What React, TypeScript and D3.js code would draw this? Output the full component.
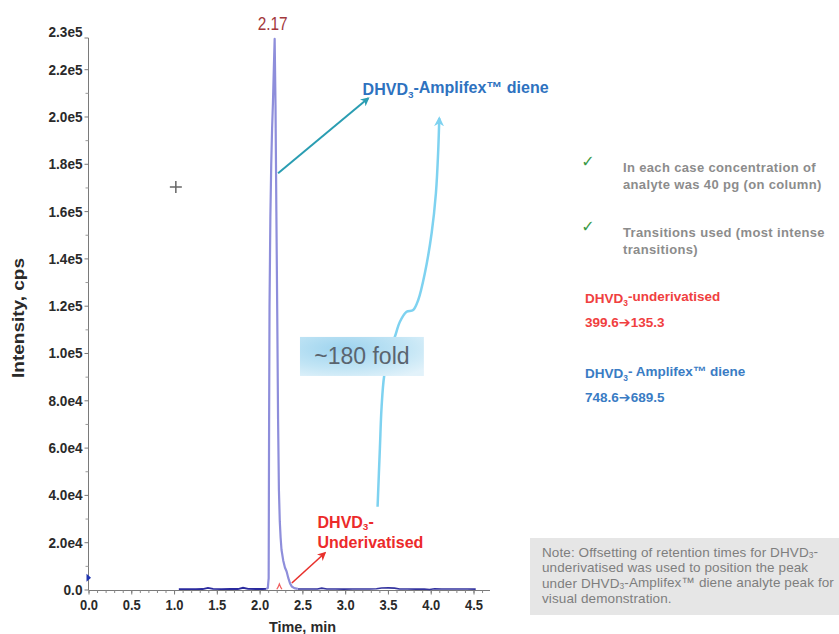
import React from "react";
import * as d3 from "d3";

// ---------- data ----------
const xTickValues = [0, 0.5, 1.0, 1.5, 2.0, 2.5, 3.0, 3.5, 4.0, 4.5];
const xTickLabels = ["0.0", "0.5", "1.0", "1.5", "2.0", "2.5", "3.0", "3.5", "4.0", "4.5"];
const yTickValues = [0, 2e4, 4e4, 6e4, 8e4, 1e5, 1.2e5, 1.4e5, 1.6e5, 1.8e5, 2.0e5, 2.2e5, 2.334e5];
const yTickLabels = ["0.0", "2.0e4", "4.0e4", "6.0e4", "8.0e4", "1.0e5", "1.2e5", "1.4e5", "1.6e5", "1.8e5", "2.0e5", "2.2e5", "2.3e5"];

// DHVD3-Amplifex diene trace (peak region)
const peakTimes = [2.07, 2.09, 2.10, 2.105, 2.11, 2.12, 2.13, 2.14, 2.15, 2.16, 2.17, 2.18, 2.19, 2.20, 2.21, 2.22, 2.23, 2.24, 2.25, 2.27, 2.29, 2.31, 2.33, 2.35, 2.37, 2.40, 2.44];
const peakIntensity = [450, 800, 5000, 70000, 120000, 158000, 180000, 195000, 206000, 220000, 233000, 205000, 160000, 118000, 72000, 42000, 29000, 22000, 17000, 12500, 9500, 7800, 5000, 2800, 1500, 800, 450];
// baseline of the same trace
const basePreTimes = [1.05, 1.15, 1.25, 1.33, 1.39, 1.45, 1.55, 1.65, 1.74, 1.80, 1.86, 1.95, 2.03, 2.07];
const basePreIntensity = [350, 400, 380, 420, 900, 450, 400, 430, 420, 950, 450, 420, 430, 450];
const basePostTimes = [2.44, 2.52, 2.60, 2.67, 2.72, 2.78, 2.88, 2.98, 3.08, 3.18, 3.28, 3.36, 3.42, 3.50, 3.57, 3.63, 3.72, 3.82, 3.92, 3.98, 4.04, 4.12, 4.22, 4.32, 4.42, 4.52];
const basePostIntensity = [450, 420, 400, 450, 800, 430, 400, 380, 400, 420, 410, 500, 850, 900, 800, 420, 400, 380, 390, 200, 500, 420, 400, 410, 400, 380];

// DHVD3-underivatised trace (tiny peak)
const underTimes = [2.195, 2.21, 2.225, 2.24, 2.255];
const underIntensity = [300, 1200, 2600, 1200, 300];

// annotations in data units
const peakLabelTime = 2.17;
const peakLabelText = "2.17";
const crossPoint = [1.015, 170400];
const tealArrow = [[2.21, 176200], [3.263, 207900]];
const redArrow = [[2.371, 2960], [2.757, 15640]];
const foldCurve = [
  [3.373, 35220], [3.40, 60000], [3.420, 77500], [3.450, 90490], [3.51, 101000], [3.575, 107100], [3.634, 113450],
  [3.712, 117670], [3.789, 118390], [3.848, 122620], [3.926, 134040], [4.005, 150950],
  [4.055, 167860], [4.082, 186050], [4.094, 199450],
];
const foldBox = [2.466, 3.914, 90500, 107000];
const foldText = "~180 fold";

const rightNotes1 = ["In each case concentration of", "analyte was 40 pg (on column)"];
const rightNotes2 = ["Transitions used (most intense", "transitions)"];
const underTransition = ["399.6", "135.3"];
const dieneTransition = ["748.6", "689.5"];

const FONT = "'Liberation Sans', Arial, Helvetica, sans-serif";

export default function App() {
  const W = 839, H = 634;
  const x = d3.scaleLinear().domain([0, 4.687]).range([89, 490]);
  const y = d3.scaleLinear().domain([0, 233400]).range([590, 38]);

  const line = d3
    .line<[number, number]>()
    .x((d) => x(d[0]))
    .y((d) => y(d[1]));
  const zip = (t: number[], v: number[]) => t.map((ti, i) => [ti, v[i]] as [number, number]);

  const curve = d3
    .line<number[]>()
    .x((d) => x(d[0]))
    .y((d) => y(d[1]))
    .curve(d3.curveCatmullRom.alpha(0.5));

  const minorY = d3.range(1e4, 2.3e5, 2e4);
  const minorX = d3.range(0, 4.66, 0.1);

  const x0 = x(0) - 0.5;
  const yAxisTop = y(233400);

  const sub = (s: string, d = 0.3) => (
    <tspan fontSize="0.62em" dy={`${d}em`}>{s}</tspan>
  );
  const arrowGlyph = (
    <tspan fontFamily="'DejaVu Sans', sans-serif" fontWeight="bold" fontSize="1.05em">➔</tspan>
  );

  return (
    <svg
      width={W}
      height={H}
      style={{ position: "absolute", left: 0, top: 0, background: "#fff" }}
      fontFamily={FONT}
    >
      <defs>
        <marker id="mTeal" viewBox="0 0 10 10" refX="8" refY="5" markerWidth="4.5" markerHeight="4.5" orient="auto">
          <path d="M0,0 L10,5 L0,10 L3,5 Z" fill="#2a9db2" />
        </marker>
        <marker id="mRed" viewBox="0 0 10 10" refX="8" refY="5" markerWidth="5.5" markerHeight="5.5" orient="auto">
          <path d="M0,0 L10,5 L0,10 L3,5 Z" fill="#e8302c" />
        </marker>
        <marker id="mBlue" viewBox="0 0 10 10" refX="8" refY="5" markerWidth="4" markerHeight="4" orient="auto">
          <path d="M0,0 L10,5 L0,10 L3,5 Z" fill="#7ed2f0" />
        </marker>
        <radialGradient id="foldGrad" cx="0.35" cy="0.3" r="0.85">
          <stop offset="0" stopColor="#9dd3ee" />
          <stop offset="0.6" stopColor="#c2e5f5" />
          <stop offset="1" stopColor="#e2f2fa" />
        </radialGradient>
      </defs>

      {/* axes */}
      <line x1={x0} x2={x0} y1={yAxisTop} y2={y(0)} stroke="#7a7a7a" strokeWidth={1} />
      <line x1={x0} x2={x(4.687)} y1={y(0) + 0.5} y2={y(0) + 0.5} stroke="#7a7a7a" strokeWidth={1} />
      {yTickValues.map((v) => (
        <line key={"yt" + v} x1={x0 - 4} x2={x0} y1={y(v)} y2={y(v)} stroke="#7a7a7a" />
      ))}
      {minorY.map((v) => (
        <line key={"ym" + v} x1={x0 - 3} x2={x0} y1={y(v)} y2={y(v)} stroke="#9a9a9a" />
      ))}
      {minorX.map((t) => (
        <line key={"xm" + t} x1={x(t)} x2={x(t)} y1={y(0) + 0.5} y2={y(0) + 3} stroke="#8a8a8a" />
      ))}
      {xTickValues.map((t) => (
        <line key={"xt" + t} x1={x(t)} x2={x(t)} y1={y(0) + 0.5} y2={y(0) + 4.5} stroke="#7a7a7a" />
      ))}
      {yTickValues.map((v, i) => (
        <text
          key={"yl" + v}
          x={x0 - 6}
          y={y(v) + (i === yTickValues.length - 1 ? -1 : 5)}
          textAnchor="end"
          fontSize={14}
          fontWeight="bold"
          fill="#2a2a2a"
          textLength={yTickLabels[i].length === 3 ? 19 : 34}
          lengthAdjust="spacingAndGlyphs"
        >
          {yTickLabels[i]}
        </text>
      ))}
      {xTickValues.map((t, i) => (
        <text
          key={"xl" + t}
          x={x(t) - 9}
          y={y(0) + 20}
          fontSize={14}
          fontWeight="bold"
          fill="#2a2a2a"
          textLength={18}
          lengthAdjust="spacingAndGlyphs"
        >
          {xTickLabels[i]}
        </text>
      ))}
      <text
        x={269}
        y={632}
        fontSize={15}
        fontWeight="bold"
        fill="#2a2a2a"
        textLength={67}
        lengthAdjust="spacingAndGlyphs"
      >
        Time, min
      </text>
      <text
        transform="translate(24,318) rotate(-90)"
        x={-60}
        fontSize={17}
        fontWeight="bold"
        fill="#2a2a2a"
        textLength={120}
        lengthAdjust="spacingAndGlyphs"
      >
        Intensity, cps
      </text>

      {/* fold curve (behind box) */}
      <path d={curve(foldCurve) || ""} fill="none" stroke="#7ed2f0" strokeWidth={2.5} markerEnd="url(#mBlue)" />
      <rect
        x={x(foldBox[0])}
        y={y(foldBox[3])}
        width={x(foldBox[1]) - x(foldBox[0])}
        height={y(foldBox[2]) - y(foldBox[3])}
        fill="url(#foldGrad)"
      />
      <text
        x={(x(foldBox[0]) + x(foldBox[1])) / 2}
        y={(y(foldBox[2]) + y(foldBox[3])) / 2 + 8}
        textAnchor="middle"
        fontSize={23}
        fill="#5a646e"
      >
        {foldText}
      </text>

      {/* traces */}
      <path d={line(zip(basePreTimes, basePreIntensity)) || ""} fill="none" stroke="#2a2a9e" strokeWidth={1.8} />
      <path d={line(zip(basePostTimes, basePostIntensity)) || ""} fill="none" stroke="#34349f" strokeWidth={1.6} />
      <path d={line(zip(underTimes, underIntensity)) || ""} fill="none" stroke="#f06060" strokeWidth={1.2} />
      <path d={line(zip(peakTimes, peakIntensity)) || ""} fill="none" stroke="#8e8edb" strokeWidth={2.2} strokeLinejoin="round" />

      {/* marker on y axis */}
      <path
        d={`M${x0 - 2},${y(5200) - 4} L${x0 + 2.5},${y(5200)} L${x0 - 2},${y(5200) + 4} Z`}
        fill="#2035b0"
      />

      {/* peak label */}
      <text x={x(peakLabelTime) - 2} y={y(236800)} textAnchor="middle" fontSize={18} fill="#a3383c" textLength={30} lengthAdjust="spacingAndGlyphs">
        {peakLabelText}
      </text>

      {/* crosshair */}
      <g stroke="#666" strokeWidth={1.5}>
        <line x1={x(crossPoint[0]) - 6} x2={x(crossPoint[0]) + 6} y1={y(crossPoint[1])} y2={y(crossPoint[1])} />
        <line x1={x(crossPoint[0])} x2={x(crossPoint[0])} y1={y(crossPoint[1]) - 6} y2={y(crossPoint[1]) + 6} />
      </g>

      {/* annotation arrows */}
      <line
        x1={x(tealArrow[0][0])}
        y1={y(tealArrow[0][1])}
        x2={x(tealArrow[1][0])}
        y2={y(tealArrow[1][1])}
        stroke="#2a9db2"
        strokeWidth={2}
        markerEnd="url(#mTeal)"
      />
      <line
        x1={x(redArrow[0][0])}
        y1={y(redArrow[0][1])}
        x2={x(redArrow[1][0])}
        y2={y(redArrow[1][1])}
        stroke="#e8302c"
        strokeWidth={1.6}
        markerEnd="url(#mRed)"
      />

      {/* annotation labels */}
      <text x={x(3.198)} y={y(209300)} fontSize={16} fontWeight="bold" fill="#2e72bf">
        DHVD{sub("3")}<tspan dy="-0.3em">-Amplifex™ diene</tspan>
      </text>
      <text x={x(2.671)} y={y(26200)} fontSize={16} fontWeight="bold" fill="#ec2a2a">
        DHVD{sub("3", 0.15)}<tspan dy="-0.15em">-</tspan>
      </text>
      <text x={x(2.671)} y={y(17760)} fontSize={16} fontWeight="bold" fill="#ec2a2a">
        Underivatised
      </text>

      {/* right-hand notes */}
      <text x={588} y={167} fontSize={16} fill="#3a9a48" fontFamily="'DejaVu Sans', sans-serif" textAnchor="middle">✓</text>
      <text x={588} y={232} fontSize={16} fill="#3a9a48" fontFamily="'DejaVu Sans', sans-serif" textAnchor="middle">✓</text>
      {rightNotes1.map((s, i) => (
        <text key={"n1" + i} x={623} y={172 + i * 16.5} fontSize={13} letterSpacing={0.35} fontWeight="bold" fill="#8c8c8c">
          {s}
        </text>
      ))}
      {rightNotes2.map((s, i) => (
        <text key={"n2" + i} x={623} y={237 + i * 16.5} fontSize={13} letterSpacing={0.35} fontWeight="bold" fill="#8c8c8c">
          {s}
        </text>
      ))}
      <text x={585} y={303} fontSize={13.5} fontWeight="bold" fill="#f04040">
        DHVD{sub("3")}<tspan dy="-0.3em">-underivatised</tspan>
      </text>
      <text x={585} y={327} fontSize={13.5} fontWeight="bold" fill="#f04040">
        {underTransition[0]}{arrowGlyph}{underTransition[1]}
      </text>
      <text x={585} y={378} fontSize={13.5} fontWeight="bold" fill="#3a7cc4">
        DHVD{sub("3")}<tspan dy="-0.3em">- Amplifex™ diene</tspan>
      </text>
      <text x={585} y={402} fontSize={13.5} fontWeight="bold" fill="#3a7cc4">
        {dieneTransition[0]}{arrowGlyph}{dieneTransition[1]}
      </text>

      {/* note box */}
      <rect x={530} y={538} width={309} height={77} fill="#e6e6e6" />
      <g fontSize={13.5} letterSpacing={0.1} fill="#7e7e7e">
        <text x={542} y={557}>
          Note: Offsetting of retention times for DHVD{sub("3", 0.15)}<tspan dy="-0.15em">-</tspan>
        </text>
        <text x={542} y={571.5}>underivatised was used to position the peak</text>
        <text x={542} y={588}>
          under DHVD{sub("3", 0.15)}<tspan dy="-0.15em">-Amplifex™ diene analyte peak for</tspan>
        </text>
        <text x={542} y={603}>visual demonstration.</text>
      </g>
    </svg>
  );
}
